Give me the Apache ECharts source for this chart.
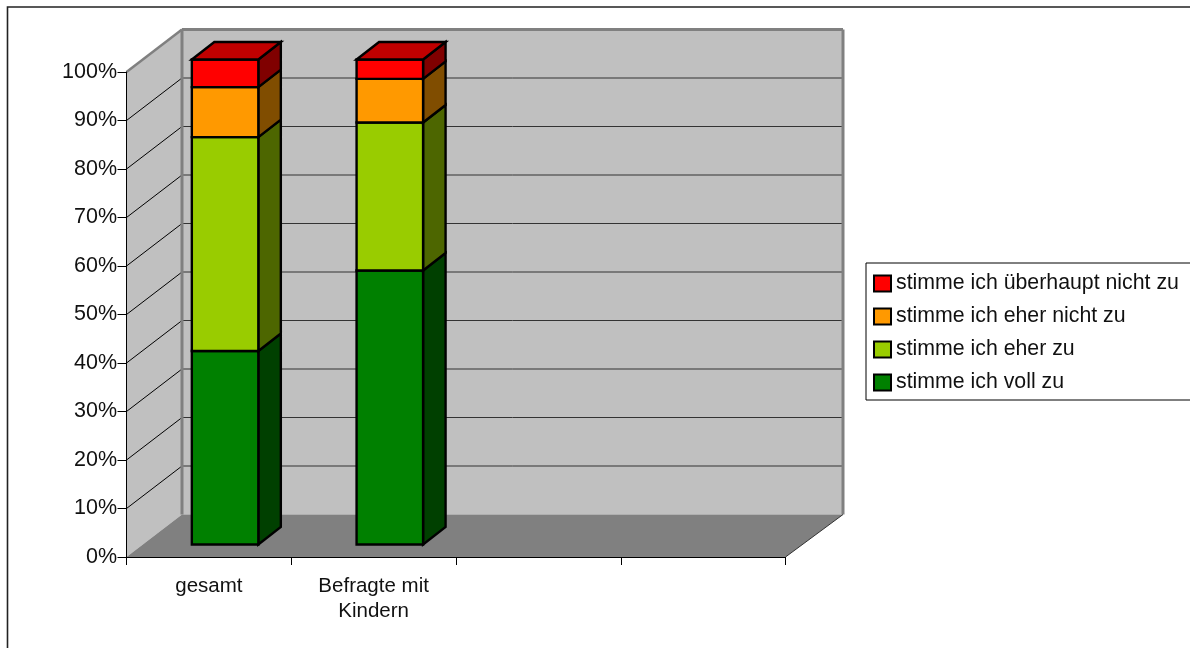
<!DOCTYPE html>
<html>
<head>
<meta charset="utf-8">
<style>html,body{margin:0;padding:0;background:#fff}#c{width:1190px;height:648px}</style>
<script src="https://cdn.jsdelivr.net/npm/echarts@6/dist/echarts.min.js"></script>
</head>
<body>
<div id="c"></div>
<script>
var categories = ['gesamt', 'Befragte mit\nKindern', '', ''];
var yTicks = [0, 10, 20, 30, 40, 50, 60, 70, 80, 90, 100];
var vollZu = [39.9, 56.5];
var eherZu = [44.1, 30.5];
var eherNichtZu = [10.3, 9.0];
var ueberhauptNichtZu = [5.7, 4.0];
var seriesNames = ['stimme ich voll zu', 'stimme ich eher zu', 'stimme ich eher nicht zu', 'stimme ich überhaupt nicht zu'];

var FONT = '"Liberation Sans", Arial, sans-serif';
var palette = [
  {front: '#008000', side: '#004000', top: '#006000'},
  {front: '#99cc00', side: '#4d6600', top: '#739900'},
  {front: '#ff9900', side: '#804d00', top: '#c07300'},
  {front: '#ff0000', side: '#800000', top: '#c00000'}
];
var WALL_DXL = 55.5, WALL_DXR = 57.5, WALL_DY = -42.5;
var BAR_DX = 16.2, BAR_DY = -12.5, DEPTH_DX = 22.5, DEPTH_DY = -17.5, BAR_W = 66.5;

function poly(pts, fill, stroke, lw) {
  return {type: 'polygon', shape: {points: pts},
    style: {fill: fill, stroke: stroke || null, lineWidth: lw || 0, lineJoin: 'miter'}};
}
function line(a, b, color, w) {
  return {type: 'line', shape: {x1: a[0], y1: a[1], x2: b[0], y2: b[1]},
    style: {stroke: color, lineWidth: w}};
}

function renderWalls(params, api) {
  var cs = params.coordSys;
  var l = cs.x, r = cs.x + cs.width;
  var y0 = api.coord([0, 0])[1], y1 = api.coord([0, 100])[1];
  var bl = l + WALL_DXL, br = r + WALL_DXR, dy = WALL_DY;
  var kids = [
    poly([[bl, y1 + dy], [br, y1 + dy], [br, y0 + dy], [bl, y0 + dy]], '#c0c0c0'),
    poly([[l, y1], [bl, y1 + dy], [bl, y0 + dy], [l, y0]], '#c0c0c0'),
    poly([[l, y0], [bl, y0 + dy], [br, y0 + dy], [r, y0]], '#808080')
  ];
  yTicks.forEach(function (t) {
    if (t === 0 || t === 100) return;
    var y = api.coord([0, t])[1];
    kids.push(line([l, y], [bl, y + dy], '#000000', 1));
    kids.push(line([bl, y + dy], [br, y + dy], '#333333', 1));
  });
  kids.push(line([l, y1], [bl, y1 + dy], '#808080', 2.5));
  kids.push(line([bl, y1 + dy], [br, y1 + dy], '#808080', 3));
  kids.push(line([bl, y1 + dy], [bl, y0 + dy], '#808080', 3));
  kids.push(line([br, y1 + dy], [br, y0 + dy], '#808080', 3));
  kids.push(line([r, y0], [br, y0 + dy], '#333333', 1));
  kids.push(line([l, y1], [l, y0], '#000000', 1));
  return {type: 'group', children: kids};
}

function makeBarRenderer(idx, isTop) {
  return function (params, api) {
    var c = api.value(0);
    var a = api.coord([c, api.value(1)]);
    var b = api.coord([c, api.value(2)]);
    var xl = a[0] + BAR_DX - BAR_W / 2, xr = xl + BAR_W;
    var yb = a[1] + BAR_DY, yt = b[1] + BAR_DY;
    var p = palette[idx];
    var kids = [
      poly([[xr, yt], [xr + DEPTH_DX, yt + DEPTH_DY], [xr + DEPTH_DX, yb + DEPTH_DY], [xr, yb]], p.side, '#000', 2.4),
      poly([[xl, yt], [xr, yt], [xr, yb], [xl, yb]], p.front, '#000', 2.4)
    ];
    if (isTop) {
      kids.push(poly([[xl, yt], [xl + DEPTH_DX, yt + DEPTH_DY], [xr + DEPTH_DX, yt + DEPTH_DY], [xr, yt]], p.top, '#000', 2.4));
    }
    return {type: 'group', children: kids};
  };
}

var stacks = [vollZu, eherZu, eherNichtZu, ueberhauptNichtZu];
var running = vollZu.map(function () { return 0; });
var barSeries = stacks.map(function (vals, i) {
  var data = vals.map(function (v, c) {
    var start = running[c];
    running[c] = start + v;
    return [c, start, running[c]];
  });
  return {
    type: 'custom', name: seriesNames[i], coordinateSystem: 'cartesian2d',
    renderItem: makeBarRenderer(i, i === stacks.length - 1),
    encode: {x: 0, y: [1, 2]}, data: data, z: 3 + i, clip: false,
    itemStyle: {color: palette[i].front}
  };
});

var chart = echarts.init(document.getElementById('c'), null, {renderer: 'canvas'});
chart.setOption({
  animation: false,
  backgroundColor: '#ffffff',
  textStyle: {fontFamily: FONT},
  grid: {left: 126.5, right: 404.5, top: 72, bottom: 91, containLabel: false},
  graphic: [{
    type: 'rect', silent: true, z: -1,
    shape: {x: 7.5, y: 7, width: 1300, height: 800},
    style: {fill: 'none', stroke: '#222', lineWidth: 1.6}
  }],
  xAxis: {
    type: 'category', data: categories, z: 8,
    axisLine: {show: true, lineStyle: {color: '#000', width: 1}},
    axisTick: {show: true, length: 8, alignWithLabel: false, interval: 0, lineStyle: {color: '#000'}},
    axisLabel: {interval: 0, color: '#111', fontSize: 20.5, lineHeight: 25, margin: 17, fontFamily: FONT},
    splitLine: {show: false}
  },
  yAxis: {
    type: 'value', min: 0, max: 100, interval: 10, z: 8,
    axisLine: {show: true, lineStyle: {color: '#000', width: 1}},
    axisTick: {show: true, length: 9, lineStyle: {color: '#000'}},
    axisLabel: {formatter: '{value}%', color: '#111', fontSize: 21.5, margin: 9.5, fontFamily: FONT},
    splitLine: {show: false}
  },
  legend: {
    orient: 'vertical', left: 866, top: 263,
    padding: [10, 30, 7, 7],
    backgroundColor: '#fff', borderColor: '#000', borderWidth: 1,
    itemWidth: 17, itemHeight: 16, itemGap: 12, icon: 'rect',
    itemStyle: {borderColor: '#000', borderWidth: 2},
    textStyle: {color: '#111', fontSize: 21.3, fontFamily: FONT, lineHeight: 20},
    data: seriesNames.slice().reverse(),
    selectedMode: false
  },
  tooltip: {show: false},
  series: [{
    type: 'custom', name: 'Wände', coordinateSystem: 'cartesian2d',
    renderItem: renderWalls, data: [[0, 0]], z: 1, clip: false, silent: true
  }].concat(barSeries)
});
</script>
</body>
</html>
